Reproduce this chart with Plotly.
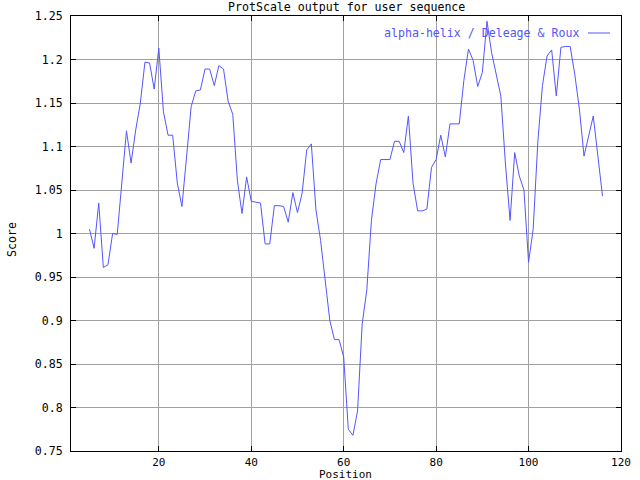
import plotly.graph_objects as go

positions = list(range(5, 117))
scores = [
    1.005, 0.983, 1.035, 0.961, 0.964, 1.000, 0.999, 1.055, 1.118, 1.081,
    1.119, 1.150, 1.197, 1.196, 1.166, 1.213, 1.140, 1.113, 1.113, 1.058,
    1.031, 1.088, 1.146, 1.164, 1.165, 1.189, 1.189, 1.170, 1.193, 1.189,
    1.152, 1.137, 1.061, 1.023, 1.065, 1.037, 1.036, 1.035, 0.988, 0.988,
    1.032, 1.032, 1.031, 1.013, 1.047, 1.024, 1.046, 1.096, 1.103, 1.027,
    0.992, 0.946, 0.900, 0.878, 0.878, 0.858, 0.775, 0.768, 0.796, 0.896,
    0.935, 1.015, 1.057, 1.085, 1.085, 1.085, 1.106, 1.106, 1.093, 1.135,
    1.058, 1.026, 1.026, 1.028, 1.076, 1.085, 1.113, 1.088, 1.126, 1.126,
    1.126, 1.176, 1.212, 1.199, 1.169, 1.185, 1.244, 1.208, 1.183, 1.158,
    1.080, 1.015, 1.093, 1.066, 1.050, 0.967, 1.005, 1.105, 1.170, 1.204,
    1.211, 1.158, 1.214, 1.215, 1.215, 1.183, 1.143, 1.089, 1.112, 1.135,
    1.089, 1.043,
]

y_ticks = [0.75, 0.8, 0.85, 0.9, 0.95, 1.0, 1.05, 1.1, 1.15, 1.2, 1.25]
y_tick_labels = ["0.75", "0.8", "0.85", "0.9", "0.95", "1", "1.05", "1.1", "1.15", "1.2", "1.25"]
x_ticks = [20, 40, 60, 80, 100, 120]
x_tick_labels = ["20", "40", "60", "80", "100", "120"]

title_text = "ProtScale output for user sequence"
x_label = "Position"
y_label = "Score"
series_name = "alpha-helix / Deleage & Roux"

LINE = "#5555ff"
FONT = dict(family="DejaVu Sans Mono", size=11.6, color="black")
SMALL = dict(family="DejaVu Sans Mono", size=11, color="black")

fig = go.Figure()
fig.add_trace(go.Scatter(x=positions, y=scores, mode="lines",
                         line=dict(color=LINE, width=1), name=series_name,
                         showlegend=False, hoverinfo="skip"))

L, R, T, B = 71, 19, 16, 29
W, H = 640, 480
pw, ph = W - L - R, H - T - B

def px(x):
    return (x - L) / pw

def py(y):
    return (H - B - y) / ph

axis_common = dict(showgrid=True, gridcolor="#a0a0a0", gridwidth=1,
                   showline=True, linecolor="black", linewidth=1, mirror="allticks",
                   ticks="inside", ticklen=5, tickcolor="black", zeroline=False,
                   automargin=False)

fig.update_layout(
    width=W, height=H,
    margin=dict(l=L, r=R, t=T, b=B, autoexpand=False),
    paper_bgcolor="white", plot_bgcolor="white",
    font=FONT,
    xaxis=dict(range=[1, 120], tickvals=x_ticks, ticktext=x_tick_labels,
               ticklabelstandoff=1, tickfont=SMALL, **axis_common),
    yaxis=dict(range=[0.75, 1.25], tickvals=y_ticks, ticktext=y_tick_labels,
               ticklabelstandoff=5, tickfont=FONT, **axis_common),
    annotations=[
        dict(text=title_text, x=px(346), y=py(7), xref="paper", yref="paper",
             showarrow=False, xanchor="center", yanchor="middle", font=FONT),
        dict(text=x_label, x=px(345), y=py(474), xref="paper", yref="paper",
             showarrow=False, xanchor="center", yanchor="middle", font=SMALL),
        dict(text=y_label, x=px(12), y=py(240), xref="paper", yref="paper",
             showarrow=False, xanchor="center", yanchor="middle", textangle=-90,
             font=FONT),
        dict(text=series_name, x=px(581), y=py(33), xref="paper", yref="paper",
             showarrow=False, xanchor="right", yanchor="middle",
             font=dict(family="DejaVu Sans Mono", size=11.6, color=LINE)),
    ],
    shapes=[
        dict(type="line", xref="paper", yref="paper", x0=px(588), x1=px(610),
             y0=py(33), y1=py(33), line=dict(color=LINE, width=1)),
    ],
)

fig.write_html("out.html", config={"displayModeBar": False},
               post_script="document.body.style.margin='0px';")
